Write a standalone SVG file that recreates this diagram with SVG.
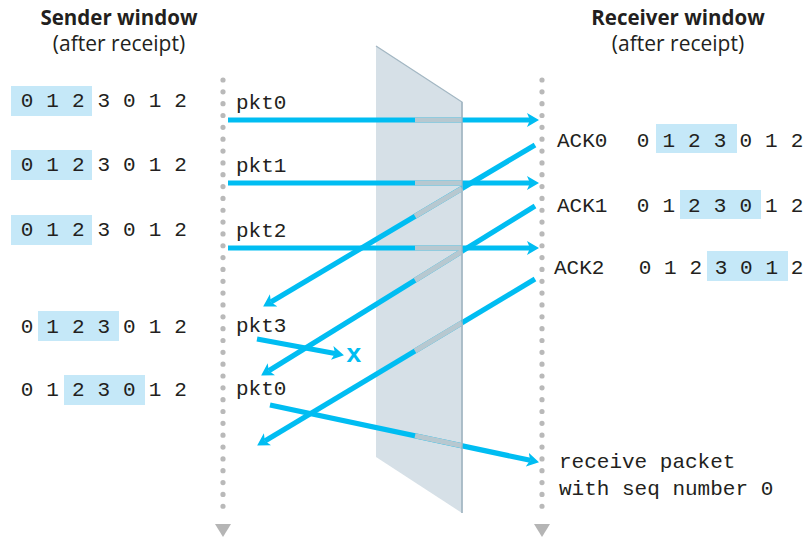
<svg xmlns="http://www.w3.org/2000/svg" width="807" height="538" viewBox="0 0 807 538">
<style>
.title{font-family:"Open Sans","Liberation Sans",sans-serif;font-size:20.5px;font-weight:bold;fill:#231f20;text-anchor:middle}
.sub{font-family:"Open Sans","Liberation Sans",sans-serif;font-size:21px;fill:#231f20;text-anchor:middle}
.mono{font-family:"Liberation Mono","DejaVu Sans Mono",monospace;font-size:21px;fill:#231f20}
.dig{font-family:"Liberation Mono","DejaVu Sans Mono",monospace;font-size:21px;fill:#231f20;text-anchor:middle}
.hl{fill:#c5e8f8}
.dots{stroke:#b9b9b9;stroke-width:5.2;stroke-linecap:round;stroke-dasharray:0 11.84;fill:none}
.tri{fill:#b5b5b5}
.conn{stroke:#00bdf2;stroke-width:5.2;fill:none;marker-end:url(#ah)}
.muted{stroke:#b7c8d0;stroke-width:5.2;fill:none}
.lost{font-family:"Liberation Mono",monospace;font-size:26px;font-weight:bold;fill:#00bdf2}
</style>
<defs>
<marker id="ah" markerUnits="userSpaceOnUse" viewBox="0 -7.5 13 15" markerWidth="13" markerHeight="15" refX="3" refY="0" orient="auto">
<path d="M0,-7 L12,0 L0,7 L3,0 Z" fill="#00bdf2"/>
</marker>
</defs>

<g id="titles">
<text class="title" x="119" y="25">Sender window</text>
<text class="sub" x="119" y="51">(after receipt)</text>
<text class="title" x="678" y="25">Receiver window</text>
<text class="sub" x="678" y="51">(after receipt)</text>
</g>

<g id="timelines">
<line class="dots" x1="223" y1="80" x2="223" y2="518"/>
<polygon class="tri" points="215,524 231,524 223,537"/>
<line class="dots" x1="542" y1="80" x2="542" y2="518"/>
<polygon class="tri" points="534,524 550,524 542,537"/>
</g>

<g id="sender-windows">
<rect class="hl" x="11" y="86" width="81" height="30"/>
<text class="dig" x="27 52.6 78.2 103.8 129.4 155 180.6" y="107">0123012</text>
<rect class="hl" x="11" y="150" width="81" height="30"/>
<text class="dig" x="27 52.6 78.2 103.8 129.4 155 180.6" y="171">0123012</text>
<rect class="hl" x="11" y="215" width="81" height="30"/>
<text class="dig" x="27 52.6 78.2 103.8 129.4 155 180.6" y="236">0123012</text>
<rect class="hl" x="38" y="311" width="81" height="30"/>
<text class="dig" x="27 52.6 78.2 103.8 129.4 155 180.6" y="333">0123012</text>
<rect class="hl" x="64" y="375" width="81" height="30"/>
<text class="dig" x="27 52.6 78.2 103.8 129.4 155 180.6" y="396">0123012</text>
</g>

<g id="receiver-windows">
<rect class="hl" x="656" y="124" width="81" height="29"/>
<text class="dig" x="643 668.7 694.3 720 745.7 771.3 797" y="147">0123012</text>
<rect class="hl" x="680" y="190" width="81" height="29"/>
<text class="dig" x="643 668.7 694.3 720 745.7 771.3 797" y="212">0123012</text>
<rect class="hl" x="707" y="251" width="81" height="30"/>
<text class="dig" x="645 670.3 695.7 721 746.3 771.7 797" y="274">0123012</text>
</g>

<g id="panel">
<polygon points="376,46 462,102 462,513 376,457" fill="#d6e0e7"/>
<polyline points="376,46 462,102 462,513" fill="none" stroke="#a3b7c3" stroke-width="1.3"/>
</g>

<g id="connectors">
<line class="conn" x1="228" y1="120" x2="530" y2="120"/>
<line class="conn" x1="228" y1="183" x2="530" y2="183"/>
<line class="conn" x1="228" y1="248" x2="530" y2="248"/>
<line class="conn" x1="535" y1="145" x2="270.9" y2="301.9"/>
<line class="conn" x1="535" y1="206" x2="268.8" y2="370.8"/>
<line class="conn" x1="535" y1="279" x2="264.9" y2="440.9"/>
<line class="conn" x1="257" y1="339" x2="335.1" y2="353.5"/>
<line class="conn" x1="270" y1="405" x2="530.2" y2="460.3"/>
</g>

<g id="behind-panel">
<line class="muted" x1="415" y1="120" x2="462" y2="120"/>
<line class="muted" x1="415" y1="183" x2="462" y2="183"/>
<line class="muted" x1="415" y1="248" x2="462" y2="248"/>
<line class="muted" x1="415" y1="216.3" x2="462" y2="188.4"/>
<line class="muted" x1="415" y1="280.3" x2="462" y2="251.2"/>
<line class="muted" x1="415" y1="350.9" x2="462" y2="322.7"/>
<line class="muted" x1="415" y1="435.8" x2="462" y2="445.8"/>
<line x1="462" y1="102" x2="462" y2="513" stroke="#a3b7c3" stroke-width="1.3"/>
</g>

<g id="packet-labels">
<text class="mono" x="236" y="109">pkt0</text>
<text class="mono" x="236" y="172">pkt1</text>
<text class="mono" x="236" y="237">pkt2</text>
<text class="mono" x="236" y="332">pkt3</text>
<text class="mono" x="236" y="395">pkt0</text>
<text class="lost" x="346" y="362">x</text>
</g>

<g id="ack-labels">
<text class="mono" x="557" y="147">ACK0</text>
<text class="mono" x="557" y="212">ACK1</text>
<text class="mono" x="554" y="274">ACK2</text>
<text class="mono" x="559" y="468">receive packet</text>
<text class="mono" x="559" y="495">with seq number 0</text>
</g>
</svg>
